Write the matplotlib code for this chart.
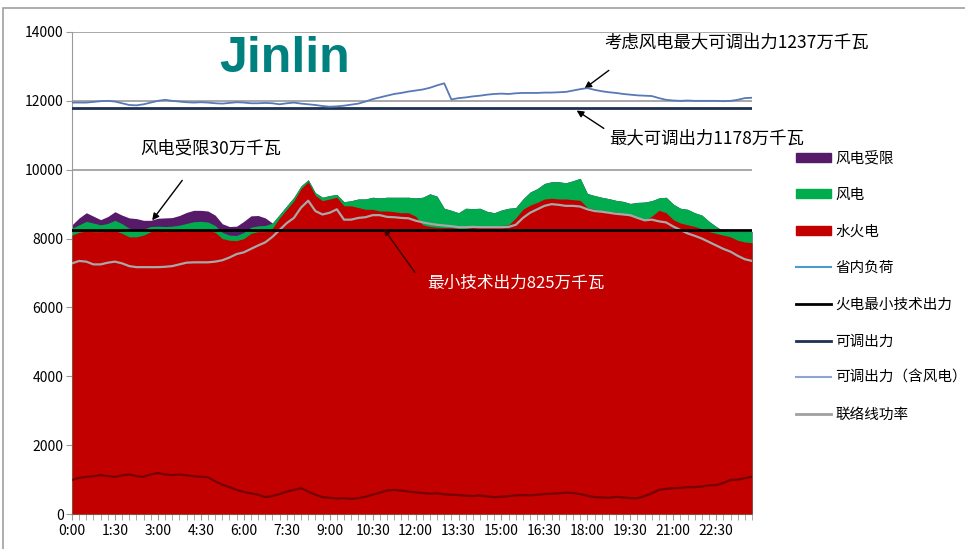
import numpy as np
import matplotlib.pyplot as plt
from matplotlib.patches import Patch, Rectangle
from matplotlib.lines import Line2D

plt.rcParams['font.family'] = ['Noto Sans CJK SC', 'DejaVu Sans']

# 15-minute points, 0:00 .. 23:45 (MW)
hydro_thermal = [8100, 8180, 8220, 8200, 8200, 8210, 8230, 8150, 8050, 8050,
                 8100, 8200, 8220, 8200, 8210, 8230, 8240, 8250, 8250, 8240,
                 8180, 8000, 7950, 7940, 8000, 8150, 8200, 8200, 8300, 8600,
                 8850, 9100, 9450, 9650, 9250, 9100, 9150, 9200, 8950, 8950,
                 8900, 8850, 8850, 8800, 8800, 8780, 8750, 8750, 8650, 8400,
                 8350, 8330, 8320, 8320, 8300, 8300, 8320, 8330, 8340, 8350,
                 8380, 8400, 8600, 8850, 8970, 9050, 9150, 9170, 9150, 9150,
                 9130, 9110, 8900, 8850, 8800, 8780, 8770, 8700, 8650, 8600,
                 8530, 8650, 8820, 8750, 8550, 8450, 8400, 8350, 8280, 8200,
                 8150, 8100, 8050, 7950, 7900, 7880]
wind = [200, 220, 280, 250, 200, 230, 300, 280, 250, 230,
        180, 150, 140, 150, 150, 160, 200, 240, 250, 240,
        200, 180, 150, 150, 180, 180, 170, 180, 150, 100,
        100, 100, 80, 60, 80, 100, 100, 80, 120, 150,
        250, 300, 350, 380, 400, 420, 450, 450, 530, 800,
        950, 900, 560, 500, 450, 580, 550, 550, 450, 400,
        450, 480, 300, 300, 380, 400, 450, 480, 500, 470,
        550, 640, 410, 400, 400, 380, 340, 380, 370, 450,
        530, 450, 360, 450, 450, 430, 450, 400, 400, 300,
        200, 120, 150, 250, 300, 330]
wind_curtailed = [100, 200, 250, 200, 150, 200, 250, 250, 300, 300,
                  250, 180, 230, 250, 250, 280, 320, 330, 320, 320,
                  300, 250, 250, 270, 320, 330, 300, 220, 0, 0,
                  0, 0, 0, 0, 0, 0, 0, 0, 0, 0,
                  0, 0, 0, 0, 0, 0, 0, 0, 0, 0,
                  0, 0, 0, 0, 0, 0, 0, 0, 0, 0,
                  0, 0, 0, 0, 0, 0, 0, 0, 0, 0,
                  0, 0, 0, 0, 0, 0, 0, 0, 0, 0,
                  0, 0, 0, 0, 0, 0, 0, 0, 0, 0,
                  0, 0, 0, 0, 0, 0]
tie_line = [7280, 7350, 7330, 7250, 7250, 7300, 7330, 7280, 7200, 7170,
            7170, 7170, 7170, 7180, 7200, 7250, 7300, 7310, 7310, 7310,
            7330, 7370, 7450, 7550, 7600, 7700, 7800, 7890, 8050, 8250,
            8450, 8600, 8900, 9100, 8800, 8700, 8750, 8850, 8550, 8550,
            8600, 8620, 8680, 8680, 8630, 8620, 8600, 8590, 8520, 8470,
            8430, 8400, 8380, 8360, 8330, 8330, 8340, 8330, 8330, 8330,
            8330, 8340, 8400, 8600, 8750, 8850, 8950, 9000, 8980, 8950,
            8950, 8930, 8850, 8800, 8780, 8750, 8720, 8700, 8680, 8600,
            8530, 8550, 8500, 8470, 8350, 8250, 8150, 8080, 8000, 7900,
            7800, 7700, 7620, 7500, 7400, 7350]
adjustable_with_wind = [11950, 11950, 11950, 11970, 11990, 12000, 11980, 11930, 11880, 11870,
                        11900, 11950, 12000, 12030, 12000, 11980, 11960, 11950, 11960, 11950,
                        11930, 11920, 11940, 11960, 11950, 11930, 11930, 11940, 11930, 11900,
                        11930, 11950, 11920, 11900, 11880, 11850, 11830, 11840, 11860, 11890,
                        11920, 11980, 12050, 12100, 12150, 12200, 12230, 12270, 12300, 12330,
                        12380, 12450, 12510, 12040, 12080, 12100, 12130, 12150, 12180, 12200,
                        12210, 12200, 12220, 12230, 12230, 12230, 12240, 12240, 12250, 12260,
                        12300, 12340, 12370, 12320, 12280, 12250, 12230, 12200, 12180, 12160,
                        12150, 12140, 12080, 12030, 12010, 12000, 12010, 12000, 12000, 12000,
                        12000, 11990, 12000, 12030, 12080, 12090]
provincial_load = [990, 1050, 1080, 1100, 1130, 1100, 1080, 1120, 1150, 1100,
                   1080, 1150, 1190, 1150, 1130, 1150, 1120, 1100, 1080, 1070,
                   950, 850, 780, 700, 640, 600, 560, 490, 520, 580,
                   650, 700, 750, 650, 560, 490, 470, 450, 460, 440,
                   460, 500, 560, 620, 680, 700, 680, 650, 630, 610,
                   590, 600, 570, 560, 550, 530, 520, 540, 510, 490,
                   500, 520, 540, 550, 540, 560, 580, 590, 600, 620,
                   610, 580, 530, 490, 480, 470, 500, 480, 460, 460,
                   520, 600, 700, 730, 750, 760, 780, 780, 800, 830,
                   840, 900, 990, 1000, 1040, 1080]
thermal_min = 8250
adjustable_max = 11780

time_labels = ['0:00', '1:30', '3:00', '4:30', '6:00', '7:30', '9:00', '10:30',
               '12:00', '13:30', '15:00', '16:30', '18:00', '19:30', '21:00', '22:30']

legend_labels = ['风电受限', '风电', '水火电', '省内负荷', '火电最小技术出力',
                 '可调出力', '可调出力（含风电）', '联络线功率']

c_red = '#C30000'
c_green = '#00AC4E'
c_purple = '#561A68'

x = np.arange(len(hydro_thermal))
red = np.array(hydro_thermal)
green = red + np.array(wind)
purple = green + np.array(wind_curtailed)

fig = plt.figure(figsize=(9.65, 5.49), dpi=100)
ax = fig.add_axes([72 / 965, 1 - 514 / 549, 680 / 965, 482 / 549])

ax.set_ylim(0, 14000)
ax.set_xlim(0, len(x) - 1)
ax.set_yticks(range(0, 14001, 2000))
ax.yaxis.grid(True, color='#9A9A9A', lw=1.2, zorder=0)
ax.set_axisbelow(True)

ax.fill_between(x, 0, purple, color=c_purple, lw=0, zorder=2)
ax.fill_between(x, 0, green, color=c_green, lw=0, zorder=3)
ax.fill_between(x, 0, red, color=c_red, lw=0, zorder=4)

ax.plot(x, tie_line, color='#A8A8A8', lw=1.6, zorder=5)
ax.plot(x, provincial_load, color='black', alpha=0.4, lw=1.6, zorder=5)
ax.plot(x, [thermal_min] * len(x), color='black', lw=2, zorder=6)
ax.plot(x, [adjustable_max] * len(x), color='#1F3050', lw=2, zorder=6)
ax.plot(x, adjustable_with_wind, color='#5878B8', lw=1.3, zorder=6)

ax.set_xticks(np.arange(0, len(x), 6))
ax.set_xticklabels(time_labels, fontsize=10)
ax.set_xticks(x, minor=True)
ax.tick_params(axis='x', which='both', direction='out', length=4, color='#9A9A9A', pad=3)
ax.tick_params(axis='y', direction='out', length=4, color='#9A9A9A', labelsize=10, pad=2)

for s in ['top', 'right']:
    ax.spines[s].set_visible(False)
for s in ['left', 'bottom']:
    ax.spines[s].set_color('#9A9A9A')

# annotations
arrow = dict(arrowstyle='-|>', color='black', lw=1, mutation_scale=10, shrinkA=0, shrinkB=0)
ax.text(74.4, 13700, '考虑风电最大可调出力1237万千瓦', fontsize=12.5, va='center', ha='left')
ax.annotate('', xy=(71.6, 12360), xytext=(75, 12885), arrowprops=arrow)
ax.text(75, 10910, '最大可调出力1178万千瓦', fontsize=12.5, va='center', ha='left')
ax.annotate('', xy=(70.5, 11720), xytext=(74.3, 11200), arrowprops=arrow)
ax.text(9.5, 10620, '风电受限30万千瓦', fontsize=12.5, va='center', ha='left')
ax.annotate('', xy=(11.2, 8530), xytext=(15.4, 9690), arrowprops=arrow)
ax.text(49.6, 6700, '最小技术出力825万千瓦', fontsize=12, va='center', ha='left',
        color='white', zorder=8)
ax.annotate('', xy=(43.6, 8270), xytext=(47.9, 7020), zorder=8,
            arrowprops=dict(arrowstyle='-|>', color='#3A0000', lw=1, mutation_scale=8,
                            shrinkA=0, shrinkB=0))

fig.text(219 / 965, 1 - 59 / 549, 'Jinlin', fontsize=36, fontweight='bold',
         color='#00807F', family='Liberation Sans', va='center', ha='left')

handles = [Patch(color=c_purple), Patch(color=c_green), Patch(color=c_red),
           Line2D([], [], color='#4A9BD0', lw=1.5),
           Line2D([], [], color='black', lw=2),
           Line2D([], [], color='#1F3050', lw=2),
           Line2D([], [], color='#8FA3D8', lw=1.5),
           Line2D([], [], color='#A0A0A0', lw=2)]
fig.legend(handles, legend_labels, loc='upper left', bbox_to_anchor=(790 / 965, 1 - 145 / 549),
           frameon=False, fontsize=10.5, handlelength=2.4, handleheight=0.6,
           handletextpad=0.3, labelspacing=1.55, borderaxespad=0)

# chart area border
fig.patches.append(Rectangle((3 / 965, -0.02), 1.02, 1 - 8 / 549 + 0.02,
                             transform=fig.transFigure, fill=False,
                             edgecolor='#A0A0A0', lw=1.2))

fig.savefig('out.png', dpi=100)
